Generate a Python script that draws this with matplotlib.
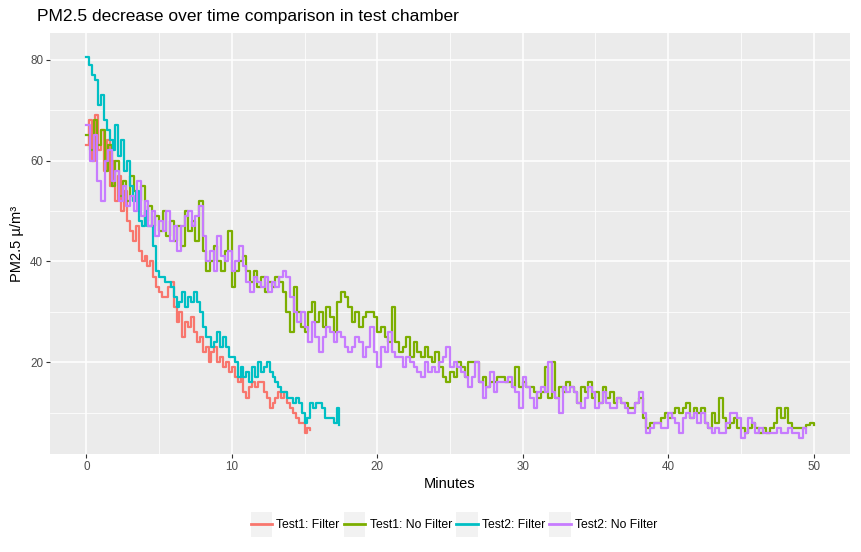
import numpy as np
import matplotlib.pyplot as plt
from matplotlib.patches import Rectangle
from matplotlib.legend_handler import HandlerLine2D

plt.rcParams['font.family'] = ['Liberation Sans', 'DejaVu Sans']

# PM2.5 lecturas (una muestra cada 0.2 / 0.25 min)
t1_filter = [63, 68, 60, 69, 62, 66, 58, 64, 55, 60, 52, 57, 50, 54, 48, 46, 44, 47, 42, 40,
             41, 39, 40, 37, 35, 34, 33, 33, 35, 36, 31, 28, 30, 25, 28, 27, 29, 26, 24, 25,
             22, 23, 20, 22, 23, 20, 21, 19, 20, 18, 19, 17, 16, 17, 14, 13, 15, 16, 15, 16,
             16, 14, 13, 11, 12, 13, 14, 13, 14, 12, 11, 10, 9, 8, 8, 6, 7, 6.5]
t2_filter = [80.5, 79, 77, 76, 71, 73, 68, 66, 64, 62, 67, 61, 64, 58, 60, 55, 52, 54, 48, 47,
             50, 47, 47, 43, 38, 37, 37, 36, 36, 35, 33, 31, 32, 34, 31, 33, 32, 34, 32, 30,
             27, 25, 25, 23, 24, 26, 23, 25, 23, 21, 21, 20, 17, 19, 17, 18, 16, 19, 17, 20,
             18, 19, 20, 18, 17, 16, 15, 14, 14, 13, 13, 12, 13, 12, 10, 8, 9, 12, 11, 12,
             12, 11, 9, 9, 9, 8, 11, 7.5]
t1_nofilter = [65, 62, 68, 63, 66, 58, 63, 55, 60, 53, 56, 52, 57, 54, 52, 55, 48, 51, 47, 49,
               46, 50, 45, 48, 44, 47, 43, 50, 46, 48, 44, 52, 42, 38, 40, 43, 40, 38, 42, 46,
               35, 38, 40, 41, 38, 36, 38, 35, 37, 34, 36, 35, 37, 36, 34, 30, 26, 35, 30, 27,
               26, 30, 32, 28, 30, 27, 31, 29, 26, 32, 34, 33, 31, 28, 30, 27, 29, 30, 30, 29,
               26, 27, 25, 24, 31, 24, 22, 23, 25, 21, 24, 22, 21, 23, 21, 20, 22, 19, 17, 16,
               18, 17, 20, 19, 17, 20, 20, 20, 16, 17, 15, 16, 16, 17, 17, 16, 16, 15, 19, 15,
               16, 15, 15, 14, 13, 14, 19, 13, 20, 13, 15, 14, 16, 15, 14, 12, 15, 14, 16, 13,
               14, 12, 15, 13, 14, 12, 13, 12, 12, 11, 11, 12, 13, 9, 7, 8, 8, 8, 9, 10,
               9, 10, 11, 10, 11, 12, 9, 11, 10, 11, 8, 7, 10, 8, 13, 9, 7, 8, 9, 7,
               7, 6, 7, 8, 7, 6, 7, 6, 7, 8, 11, 9, 11, 8, 7, 7, 7, 7, 7.5, 8,
               7.5]
t2_nofilter = [67, 60, 65, 56, 52, 60, 62, 56, 58, 52, 55, 51, 53, 50, 56, 49, 52, 47, 50, 45,
               48, 46, 50, 44, 47, 42, 47, 49, 50, 47, 49, 51, 45, 40, 42, 38, 45, 41, 40, 42,
               38, 40, 43, 39, 36, 34, 37, 36, 35, 37, 34, 36, 35, 37, 38, 37, 33, 30, 28, 30,
               27, 24, 28, 25, 22, 25, 27, 26, 24, 26, 25, 23, 22, 23, 25, 24, 21, 23, 27, 22,
               19, 23, 22, 26, 22, 21, 21, 19, 21, 20, 19, 18, 17, 20, 18, 19, 18, 20, 21, 23,
               19, 20, 19, 18, 17, 15, 17, 20, 16, 13, 15, 18, 14, 16, 16, 16, 17, 15, 14, 11,
               17, 15, 13, 11, 14, 15, 14, 20, 14, 13, 10, 15, 14, 15, 14, 12, 11, 13, 15, 14,
               11, 12, 14, 12, 11, 11, 13, 12, 11, 10, 10, 12, 14, 10, 6, 7, 8, 8, 7, 7,
               10, 9, 8, 6, 9, 10, 9, 10, 8, 10, 8, 7, 6, 7, 6, 6, 8, 10, 10, 9,
               5, 6, 9, 8, 6, 7, 6, 6, 6, 6, 7, 6, 6, 7, 6, 6, 5, 7, 6]

series = [
    ('Test1: Filter', t1_filter, 0.2, '#F8766D'),
    ('Test1: No Filter', t1_nofilter, 0.25, '#7CAE00'),
    ('Test2: Filter', t2_filter, 0.2, '#00BFC4'),
    ('Test2: No Filter', t2_nofilter, 0.25, '#C77CFF'),
]


class KeyHandler(HandlerLine2D):
    # fondo gris de la clave, estilo ggplot
    def create_artists(self, legend, orig_handle, xdescent, ydescent, width, height, fontsize, trans):
        bg = Rectangle((-xdescent, -ydescent - 5), width, height + 10,
                       facecolor='#F2F2F2', edgecolor='none', transform=trans)
        arts = super().create_artists(legend, orig_handle, xdescent, ydescent, width, height, fontsize, trans)
        for a in arts:
            a.set_linewidth(2.0)
        return [bg] + list(arts)


fig = plt.figure(figsize=(8.61, 5.52), dpi=100)
ax = fig.add_axes([50 / 861, 1 - 454 / 552, (850 - 50) / 861, (454 - 33) / 552])
ax.set_facecolor('#EBEBEB')

for nombre, vals, paso, col in series:
    ti = np.arange(len(vals)) * paso
    ax.plot(ti, vals, drawstyle='steps-post', color=col, lw=1.6, label=nombre)

ax.set_xlim(-2.5, 52.5)
ax.set_ylim(1.8, 85.3)
ax.set_xticks([0, 10, 20, 30, 40, 50])
ax.set_yticks([20, 40, 60, 80])
ax.set_xticks([5, 15, 25, 35, 45], minor=True)
ax.set_yticks([10, 30, 50, 70], minor=True)
ax.grid(which='major', color='white', lw=1.1)
ax.grid(which='minor', color='white', lw=0.55)
ax.set_axisbelow(True)
for s in ax.spines.values():
    s.set_visible(False)
ax.tick_params(which='major', length=3, width=0.8, color='#333333', labelcolor='#4D4D4D',
               labelsize=8.4, pad=2)
ax.tick_params(which='minor', length=0)

ax.set_xlabel('Minutes', fontsize=10.5, labelpad=3)
ax.set_ylabel('PM2.5 µ/m³', fontsize=10.5, labelpad=4)
fig.text(37 / 861, 1 - 17 / 552, 'PM2.5 decrease over time comparison in test chamber',
         fontsize=12.5, ha='left', va='center')

fig.legend(loc='center', bbox_to_anchor=(454 / 861, 1 - 525 / 552), ncol=4, frameon=False,
           fontsize=8.8, handlelength=1.75, handleheight=1.0, handletextpad=0.35,
           columnspacing=0.35, handler_map={plt.Line2D: KeyHandler()})

plt.savefig('out.png', dpi=100)
